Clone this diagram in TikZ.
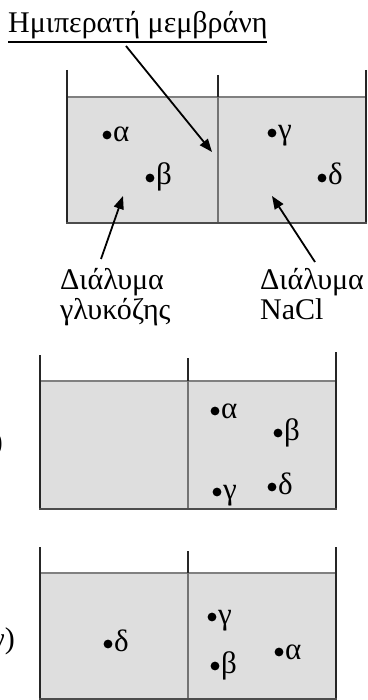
\documentclass[tikz,border=0pt]{standalone}
\usepackage{fontspec}
\setmainfont{Liberation Serif}
\usetikzlibrary{arrows.meta}
\newcommand\pdot[4]{%
  \fill (#2,#3) circle (4.4pt);
  \node[pt] (#1) at (#2+6,#3+7) {#4};}
\begin{document}
\begin{tikzpicture}[x=1pt,y=-1pt,
  txt/.style={font=\fontsize{30}{34}\selectfont, inner sep=0pt, anchor=base west},
  pt/.style={font=\fontsize{31}{34}\selectfont, inner sep=0pt, anchor=base west},
  wall/.style={line width=1.6pt, black!85},
  water/.style={fill=black!13, draw=none},
  surf/.style={line width=1.2pt, black!50},
  floor/.style={line width=2.4pt, black!70},
  memb/.style={line width=1.2pt, black!55},
  ptr/.style={line width=1.8pt, -{Triangle[length=13pt,width=10pt]}}]
\useasboundingbox (0,0) rectangle (367,700);
\clip (0,0) rectangle (367,700);

% ---------- box 1 ----------
\fill[water] (67,97) rectangle (366,223);
\draw[surf] (67,97) -- (366,97);
\draw[memb] (218,97) -- (218,223);
\draw[wall] (218,75) -- (218,97);
\draw[wall] (67,70) -- (67,223);
\draw[wall] (366,70) -- (366,223);
\draw[floor] (66,223) -- (367,223);

\pdot{a1}{107}{135}{α}
\pdot{b1}{150}{178}{β}
\pdot{g1}{272}{133}{γ}
\pdot{d1}{322}{178}{δ}

\node[txt] (title) at (8,33) {Ημιπερατή μεμβράνη};
\draw[line width=1.3pt] (8,42) -- (267,42);
\coordinate (tt) at (126,46);
\coordinate (th) at (212,152);
\draw[ptr] (tt) -- (th);

\node[txt] (l1) at (60,289) {Διάλυμα};
\node[txt] (l2) at (60,319) {γλυκόζης};
\node[txt] (r1) at (260,289) {Διάλυμα};
\node[txt] (r2) at (260,319) {NaCl};
\coordinate (lt) at (101,259);
\coordinate (lh) at (123,196);
\coordinate (rt) at (315,262);
\coordinate (rh) at (272,196);
\draw[ptr] (lt) -- (lh);
\draw[ptr] (rt) -- (rh);

% ---------- box 2 ----------
\fill[water] (40,381) rectangle (336,509);
\draw[surf] (40,381) -- (336,381);
\draw[memb] (188,381) -- (188,509);
\draw[wall] (188,358) -- (188,381);
\draw[wall] (40,355) -- (40,509);
\draw[wall] (336,352) -- (336,509);
\draw[floor] (39,509) -- (337,509);

\pdot{a2}{215}{411}{α}
\pdot{b2}{278}{433}{β}
\pdot{g2}{217}{492}{γ}
\pdot{d2}{272}{487}{δ}
\node[txt, anchor=base east] (lb) at (3,451) {β)};

% ---------- box 3 ----------
\fill[water] (40,573) rectangle (336,699);
\draw[surf] (40,573) -- (336,573);
\draw[memb] (188,573) -- (188,699);
\draw[wall] (188,551) -- (188,573);
\draw[wall] (40,547) -- (40,699);
\draw[wall] (336,547) -- (336,699);
\draw[floor] (39,699) -- (337,699);

\pdot{d3}{108}{644}{δ}
\pdot{g3}{212}{617}{γ}
\pdot{b3}{215}{666}{β}
\pdot{a3}{279}{652}{α}
\node[txt, anchor=base east] (lg) at (15,648) {γ)};
\end{tikzpicture}
\end{document}
